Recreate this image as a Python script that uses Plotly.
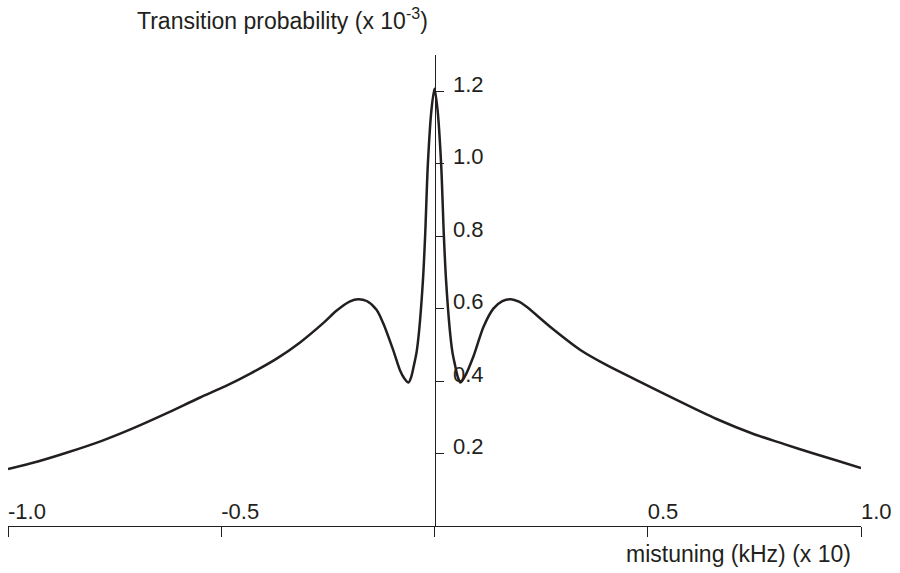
import plotly.graph_objects as go

# Data (mistuning in kHz x10, transition probability x1e-3)
mistuning = [
    -1.000, -0.930, -0.863, -0.780, -0.706, -0.630, -0.551, -0.490, -0.433,
    -0.370, -0.316, -0.261, -0.230, -0.198, -0.179, -0.159, -0.136, -0.120,
    -0.097, -0.081, -0.071, -0.061, -0.055, -0.048, -0.042, -0.036, -0.027,
    -0.022, -0.0155, -0.007, 0.000,
    0.007, 0.0155, 0.022, 0.027, 0.036, 0.042, 0.048, 0.055, 0.061,
    0.071, 0.091, 0.115, 0.138, 0.159, 0.179, 0.198, 0.216, 0.271, 0.342,
    0.404, 0.482, 0.576, 0.660, 0.748, 0.820, 0.889, 0.945, 1.000,
]
probability = [
    0.157, 0.178, 0.202, 0.235, 0.270, 0.310, 0.354, 0.386, 0.420,
    0.462, 0.506, 0.560, 0.594, 0.620, 0.626, 0.621, 0.597, 0.559,
    0.486, 0.430, 0.408, 0.396, 0.410, 0.445, 0.480, 0.540, 0.680,
    0.800, 1.000, 1.150, 1.207,
    1.150, 1.000, 0.800, 0.680, 0.540, 0.480, 0.445, 0.410, 0.396,
    0.412, 0.467, 0.550, 0.600, 0.621, 0.626, 0.619, 0.605, 0.550, 0.486,
    0.444, 0.398, 0.343, 0.296, 0.254, 0.226, 0.200, 0.180, 0.160,
]

x_tickvals = [-1.0, -0.5, 0.0, 0.5, 1.0]
x_labelvals = [-1.0, -0.5, 0.5, 1.0]
x_labeltext = ["-1.0", "-0.5", "0.5", "1.0"]
y_tickvals = [0.2, 0.4, 0.6, 0.8, 1.0, 1.2]
y_ticktext = ["0.2", "0.4", "0.6", "0.8", "1.0", "1.2"]

ink = "#231f20"
family = "Liberation Sans, Arial, sans-serif"
tick_font = dict(family=family, size=22, color=ink)
label_font = dict(family=family, size=23, color=ink)
title_font = dict(family=family, size=23, color=ink)

fig = go.Figure()
fig.add_trace(go.Scatter(
    x=mistuning, y=probability, mode="lines",
    line=dict(color=ink, width=2.5, shape="spline", smoothing=0.8),
    showlegend=False, hoverinfo="skip",
))
# invisible trace to activate the label axis
fig.add_trace(go.Scatter(x=[-1, 1], y=[0, 0], xaxis="x2", mode="lines",
                         line=dict(width=0), showlegend=False, hoverinfo="skip"))

fig.update_layout(
    width=900, height=573,
    margin=dict(l=8, r=39, t=55, b=47),
    paper_bgcolor="white", plot_bgcolor="white",
    font=tick_font,
    xaxis=dict(
        range=[-1, 1], tickvals=x_tickvals,
        showticklabels=False, ticks="outside", ticklen=10, tickwidth=1, tickcolor=ink,
        showline=True, linecolor=ink, linewidth=1, showgrid=False, zeroline=False,
        side="bottom",
    ),
    xaxis2=dict(
        range=[-1, 1], overlaying="x", matches="x", anchor="free", position=0,
        side="top", tickvals=x_labelvals, ticktext=x_labeltext, ticks="",
        ticklabelposition="outside right", ticklabelstandoff=3,
        showline=False, showgrid=False, zeroline=False, tickfont=tick_font,
    ),
    yaxis=dict(
        range=[0, 1.30], tickvals=y_tickvals, ticktext=y_ticktext,
        anchor="free", position=0.5, side="right",
        ticks="outside", ticklen=8, tickwidth=1, tickcolor=ink,
        showline=True, linecolor=ink, linewidth=1, showgrid=False, zeroline=False,
        ticklabelshift=-7, ticklabelstandoff=5, tickfont=tick_font,
    ),
    annotations=[
        dict(text="Transition probability (x 10<sup>-3</sup>)", xref="paper", yref="paper",
             x=(430 - 8) / 853, y=1.076, xanchor="right", yanchor="middle",
             showarrow=False, font=title_font),
        dict(text="mistuning (kHz) (x 10)", xref="paper", yref="paper",
             x=(853 - 8) / 853, y=-0.0594, xanchor="right", yanchor="middle",
             showarrow=False, font=label_font),
    ],
)

fig.write_html("out.html")
